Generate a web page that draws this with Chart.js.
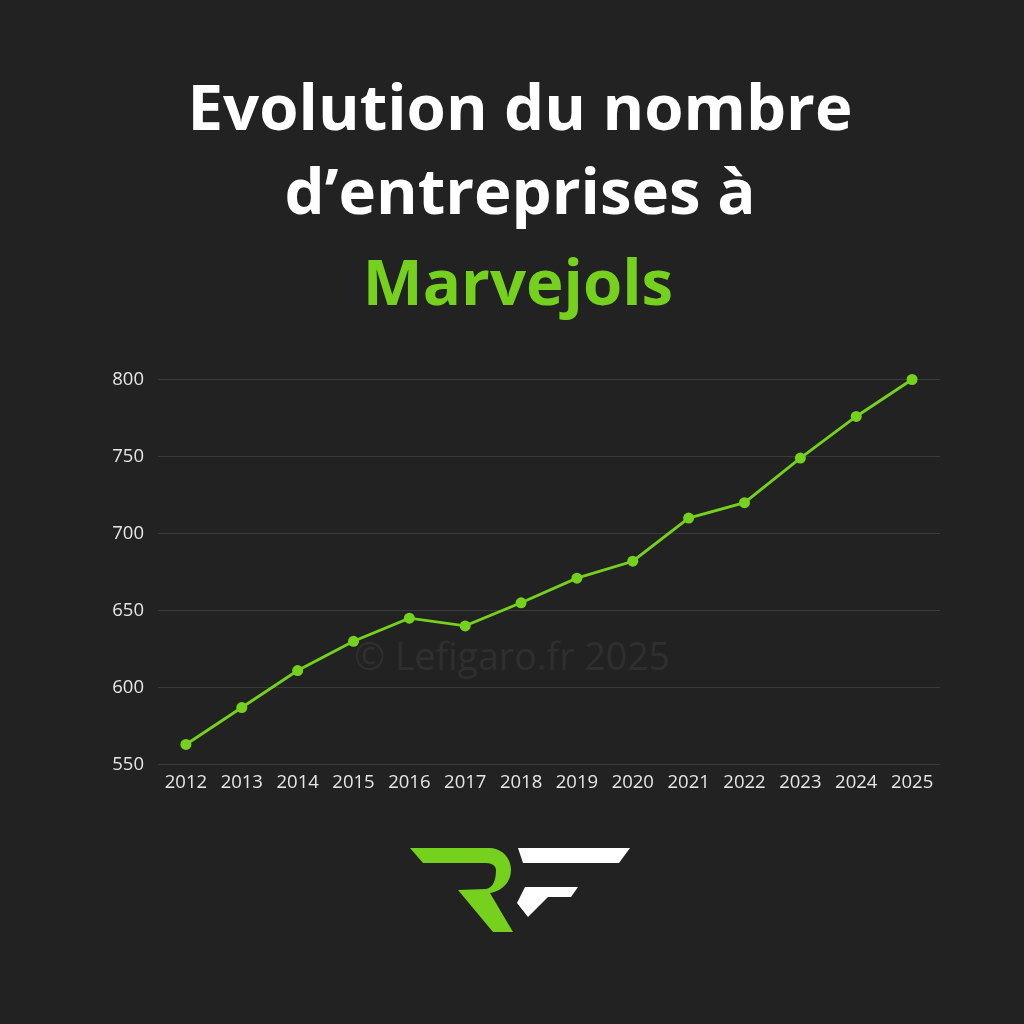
<!DOCTYPE html>
<html>
<head>
<meta charset="utf-8">
<script src="https://cdn.jsdelivr.net/npm/chart.js@4.4.1/dist/chart.umd.min.js"></script>
<style>
  html, body { margin: 0; padding: 0; background: #222222; }
  #wrap { position: relative; width: 1024px; height: 1024px; background: #222222; overflow: hidden; }
  .t { position: absolute; left: 0; width: 1024px; text-align: center; font-family: "Open Sans", sans-serif; font-weight: 700; font-size: 63.5px; line-height: 64px; color: #ffffff; white-space: nowrap; }
  #wm { position: absolute; left: 0; width: 1024px; text-align: center; top: 636px; font-family: "Open Sans", sans-serif; font-size: 37.5px; line-height: 40px; color: #2f2f2f; }
  #c { position: absolute; left: 0; top: 0; }
  #logo { position: absolute; left: 0; top: 0; }
</style>
</head>
<body>
<div id="wrap">
  <div class="t" style="top:74px; left:8px">Evolution du nombre</div>
  <div class="t" style="top:158px; left:8px">d’entreprises à</div>
  <div class="t" style="top:249px; left:6px; color:#76d11f">Marvejols</div>
  <div id="wm">© Lefigaro.fr 2025</div>
  <canvas id="c" width="1024" height="1024"></canvas>
  <svg id="logo" width="1024" height="1024" viewBox="0 0 1024 1024">
    <path fill="#76d11f" d="M410,848 L489,848 C503,848 511,859 511,870 C511,882 502,891 490,893 L513,932 L493,932 L458,890 L486,889 C493,888 496,880 496,870 C496,866 492,863 486,863 L423,863 Z"/>
    <path fill="#ffffff" d="M518,848 L630,848 L619,863 L523,863 Z"/>
    <path fill="#ffffff" d="M525,887 L578,887 L571,897 L548,897 L528,917 L517,903 Z"/>
  </svg>
</div>
<script>
const years = ["2012","2013","2014","2015","2016","2017","2018","2019","2020","2021","2022","2023","2024","2025"];
const companies = [563, 587, 611, 630, 645, 640, 655, 671, 682, 710, 720, 749, 776, 800];
const yTicks = [550, 600, 650, 700, 750, 800];

const green = "#76d11f";
new Chart(document.getElementById("c"), {
  type: "line",
  data: {
    labels: years,
    datasets: [{
      data: companies,
      borderColor: green,
      backgroundColor: green,
      borderWidth: 2.8,
      pointRadius: 5.5,
      pointHoverRadius: 5.5,
      pointBackgroundColor: green,
      pointBorderWidth: 0,
      tension: 0,
      fill: false,
      clip: false
    }]
  },
  options: {
    responsive: false,
    animation: false,
    layout: { padding: { left: 0, right: 84, top: 379.5, bottom: 219.5 } },
    plugins: { legend: { display: false }, tooltip: { enabled: false }, title: { display: false } },
    scales: {
      x: {
        offset: true,
        grid: { display: false, drawTicks: false },
        border: { display: false },
        ticks: { color: "#e6e6e6", font: { family: "Open Sans", size: 18.5 }, padding: 7, maxRotation: 0, autoSkip: false },
        afterFit: (s) => { s.height = 40; }
      },
      y: {
        min: 550, max: 800,
        afterBuildTicks: (s) => { s.ticks = yTicks.map(v => ({ value: v })); },
        grid: { color: "#3b3b3b", lineWidth: 1, drawTicks: false },
        border: { display: false },
        ticks: { color: "#e6e6e6", font: { family: "Open Sans", size: 18.5 }, padding: 14 },
        afterFit: (s) => { s.width = 158; }
      }
    }
  }
});
</script>
</body>
</html>
